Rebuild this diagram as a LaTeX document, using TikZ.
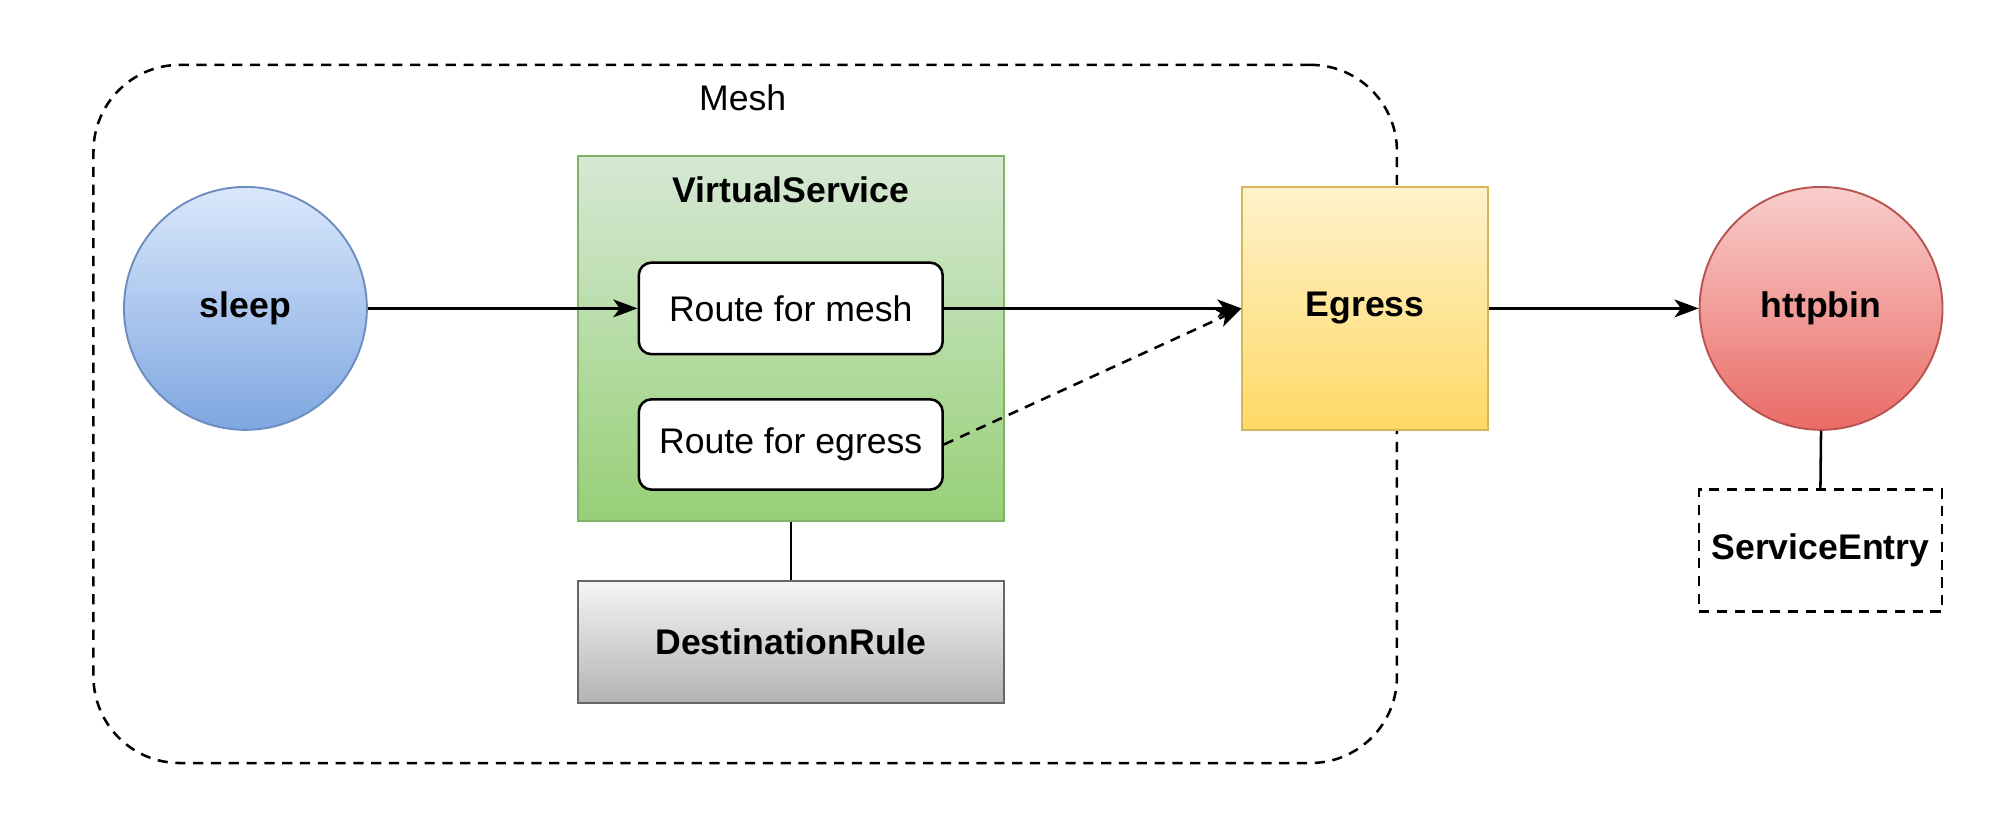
\documentclass[tikz,border=0pt]{standalone}
\usepackage{fontspec}
\setmainfont{Liberation Sans}
\usetikzlibrary{arrows.meta}
\definecolor{bluetop}{HTML}{DAE8FC}
\definecolor{bluebot}{HTML}{7EA6E0}
\definecolor{bluestroke}{HTML}{6C8EBF}
\definecolor{greentop}{HTML}{D5E8D4}
\definecolor{greenbot}{HTML}{97D077}
\definecolor{greenstroke}{HTML}{82B366}
\definecolor{yeltop}{HTML}{FFF2CC}
\definecolor{yelbot}{HTML}{FFD966}
\definecolor{yelstroke}{HTML}{D6B656}
\definecolor{redtop}{HTML}{F8CECC}
\definecolor{redbot}{HTML}{EA6B66}
\definecolor{redstroke}{HTML}{B85450}
\definecolor{graytop}{HTML}{F5F5F5}
\definecolor{graybot}{HTML}{B3B3B3}
\definecolor{graystroke}{HTML}{666666}
\begin{document}
\begin{tikzpicture}[x=1pt,y=-1pt,
  every node/.style={font=\fontsize{28}{34}\selectfont, inner sep=0pt},
  boldlbl/.style={font=\fontsize{28}{34}\selectfont\bfseries},
  dashpat/.style={dash pattern=on 8pt off 6pt},
  conn/.style={line width=2pt, -{Stealth[length=19pt,width=14pt,inset=5pt]}},
  plainline/.style={line width=2pt},
  circ/.style={circle, minimum size=191pt, line width=1.5pt, boldlbl},
  routebox/.style={draw=black, fill=white, line width=2pt, rounded corners=10pt,
    minimum width=239pt, minimum height=72pt},
  bigbox/.style={line width=1.5pt, minimum width=335pt},
]
\useasboundingbox (0,0) rectangle (1568,643);
% Mesh container
\node[draw=black, line width=2pt, dashpat, rounded corners=68pt,
  minimum width=1025pt, minimum height=549pt] (mesh) at (586,325.5) {};
\node (meshlbl) at (584,77) {Mesh};
% VirtualService
\node[bigbox, draw=greenstroke, top color=greentop, bottom color=greenbot,
  minimum height=287pt] (vs) at (622,266.4) {};
\node[boldlbl] (vslbl) at (622,149.5) {VirtualService};
\node[routebox] (rm) at (621.8,242.5) {Route for mesh};
\node[routebox, minimum height=71pt] (re) at (621.8,349.5) {Route for egress};
% DestinationRule
\node[bigbox, draw=graystroke, top color=graytop, bottom color=graybot,
  minimum height=96pt, boldlbl] (dr) at (622,505) {DestinationRule};
% sleep
\node[circ, draw=bluestroke, top color=bluetop, bottom color=bluebot] (sleep) at (193,242.5) {sleep};
% Egress
\node[draw=yelstroke, top color=yeltop, bottom color=yelbot, line width=1.5pt,
  minimum width=193pt, minimum height=191pt, boldlbl] (eg) at (1073.5,242.5) {Egress};
% httpbin
\node[circ, draw=redstroke, top color=redtop, bottom color=redbot] (hb) at (1432,242.5) {httpbin};
% ServiceEntry
\node[draw=black, line width=2pt, dashpat, fill=white, minimum width=191pt,
  minimum height=96pt, boldlbl] (se) at (1431.5,433) {ServiceEntry};
% connectors
\draw[conn] (sleep.east) -- (rm.west);
\draw[conn] (rm.east) -- (eg.west);
\draw[conn, dashpat] (re.east) -- (eg.west);
\draw[conn] (eg.east) -- (hb.west);
\draw[plainline] (vs.south) -- (dr.north);
\draw[plainline] (hb.south) -- (se.north);
\end{tikzpicture}
\end{document}
